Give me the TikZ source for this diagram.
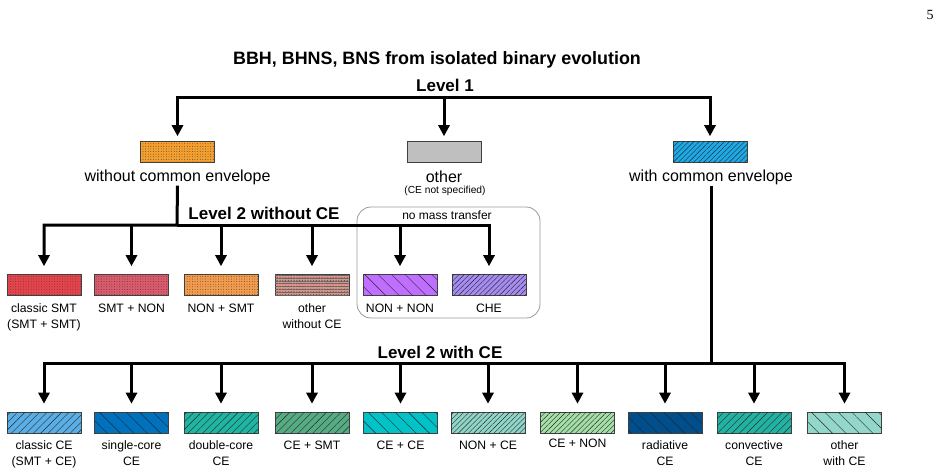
\documentclass[tikz,border=0pt]{standalone}
\usepackage{fontspec}
\setmainfont{Liberation Sans}
\newfontfamily\pagenumfont{Liberation Serif}
\usetikzlibrary{arrows.meta,patterns.meta}

\definecolor{cOrange}{HTML}{F5A02E}
\definecolor{cGrey}{HTML}{BFBFBF}
\definecolor{cBlue}{HTML}{1CA9E6}
\definecolor{cSMT}{HTML}{E8434B}
\definecolor{cSMTNON}{HTML}{DC5A6C}
\definecolor{cNONSMT}{HTML}{F59B4C}
\definecolor{cOthWo}{HTML}{D9958A}
\definecolor{cNONNON}{HTML}{C06EFF}
\definecolor{cCHE}{HTML}{A68BF2}
\definecolor{cClassCE}{HTML}{5AAEE6}
\definecolor{cSingle}{HTML}{0072BD}
\definecolor{cDouble}{HTML}{1FB5A3}
\definecolor{cCESMT}{HTML}{55AC82}
\definecolor{cCECE}{HTML}{00C2C7}
\definecolor{cNONCE}{HTML}{8FD6C9}
\definecolor{cCENON}{HTML}{A3DFA7}
\definecolor{cRad}{HTML}{004E8C}
\definecolor{cConv}{HTML}{22B2A2}
\definecolor{cOthCE}{HTML}{92D7CA}

\begin{document}
\begin{tikzpicture}[x=1pt,y=-1pt,
  box/.style={draw=black!75,line width=0.6pt,minimum width=74pt,minimum height=21pt,inner sep=0pt},
  dots/.style={postaction={pattern={Dots[radius=0.45pt,distance=2.6pt]},pattern color=black!75}},
  bricks/.style={postaction={pattern={Dots[radius=0.55pt,distance=2.8pt]},pattern color=black!85},
                 postaction={pattern={Lines[angle=0,distance=2.8pt,line width=0.3pt]},pattern color=black!60}},
  nefine/.style={postaction={pattern={Lines[angle=45,distance=3.6pt,line width=0.4pt]},pattern color=black!85}},
  nemed/.style={postaction={pattern={Lines[angle=45,distance=5.2pt,line width=0.4pt]},pattern color=black!85}},
  nwwide/.style={postaction={pattern={Lines[angle=-45,distance=9.5pt,line width=0.4pt]},pattern color=black!85}},
  lbl/.style={font=\fontsize{12.2}{16}\selectfont,align=center,anchor=north,inner sep=0pt},
  big/.style={font=\fontsize{16}{19}\selectfont,inner sep=1pt},
  small/.style={font=\fontsize{10.2}{12}\selectfont,inner sep=0pt},
  hdr/.style={font=\bfseries\fontsize{17}{20}\selectfont,inner sep=0pt},
  conn/.style={line width=3pt,line join=miter},
  arr/.style={conn,-{Triangle[width=11pt,length=11pt]},shorten >=8pt},
  arrtop/.style={conn,-{Triangle[width=11pt,length=11pt]},shorten >=5pt}
]
\useasboundingbox (0,0) rectangle (944,474);

% page number
\node[font=\pagenumfont\fontsize{14}{16}\selectfont] (pnum) at (930,15) {5};

% title and level 1
\node[hdr,font=\bfseries\fontsize{17.9}{21}\selectfont] (title) at (437,60) {BBH, BHNS, BNS from isolated binary evolution};
\node[hdr] (lev1) at (445,85) {Level 1};

% level 1 boxes
\node[box,fill=cOrange,dots] (wo) at (177.5,152) {};
\node[box,fill=cGrey] (oth) at (444,152) {};
\node[box,fill=cBlue,nefine] (ce) at (710,152) {};

\node[big] (wotxt) at (177.5,177) {without common envelope};
\node[big] (othtxt) at (444,177) {other};
\node[small] (othsub) at (445,191) {(CE not specified)};
\node[big] (cetxt) at (711,177) {with common envelope};

\coordinate (bus1) at (445,97);
\draw[arrtop] (bus1) -| (wo.north);
\draw[arrtop] (bus1) -| (ce.north);
\draw[arrtop] (oth.north |- bus1) -- (oth.north);

% level 2 without CE
\node[draw=black!40,line width=0.8pt,rounded corners=14pt,minimum width=183pt,minimum height=111pt] (nomt) at (448.5,262.5) {};
\node[font=\fontsize{12}{14}\selectfont,inner sep=0pt] (nomttxt) at (447,215) {no mass transfer};
\node[hdr] (lev2a) at (264,213) {Level 2 without CE};

\node[box,fill=cSMT,dots] (smt) at (44,285) {};
\node[box,fill=cSMTNON,dots] (smtnon) at (131.5,285) {};
\node[box,fill=cNONSMT,dots] (nonsmt) at (221,285) {};
\node[box,fill=cOthWo,bricks] (othwo) at (312,285) {};
\node[box,fill=cNONNON,nwwide] (nonnon) at (400,285) {};
\node[box,fill=cCHE,nefine] (che) at (489,285) {};

\node[lbl] (smtL) at ([yshift=-8pt]smt.south) {classic SMT\\(SMT + SMT)};
\node[lbl] (smtnonL) at ([yshift=-8pt]smtnon.south) {SMT + NON};
\node[lbl] (nonsmtL) at ([yshift=-8pt]nonsmt.south) {NON + SMT};
\node[lbl] (othwoL) at ([yshift=-8pt]othwo.south) {other\\without CE};
\node[lbl] (nonnonL) at ([yshift=-8pt]nonnon.south) {NON + NON};
\node[lbl] (cheL) at ([yshift=-8pt]che.south) {CHE};

\coordinate (bus2) at (177,225);
\draw[arr] (wotxt.south) -- (bus2) -| (smt.north);
\draw[arr] (bus2) -| (che.north);
\foreach \n in {smtnon,nonsmt,othwo,nonnon}{
  \draw[arr] (\n.north |- bus2) -- (\n.north);
}

% level 2 with CE
\node[hdr] (lev2b) at (440,352) {Level 2 with CE};

\node[box,fill=cClassCE,nemed] (cce) at (44,422.5) {};
\node[box,fill=cSingle,nwwide] (single) at (131.5,422.5) {};
\node[box,fill=cDouble,nemed] (double) at (221,422.5) {};
\node[box,fill=cCESMT,nemed] (cesmt) at (312,422.5) {};
\node[box,fill=cCECE,nwwide] (cece) at (400.5,422.5) {};
\node[box,fill=cNONCE,nefine] (nonce) at (488,422.5) {};
\node[box,fill=cCENON,nefine] (cenon) at (577.5,422.5) {};
\node[box,fill=cRad,nwwide] (rad) at (665,422.5) {};
\node[box,fill=cConv,nemed] (conv) at (754,422.5) {};
\node[box,fill=cOthCE,nwwide] (othce) at (844.5,422.5) {};

\node[lbl] (cceL) at ([yshift=-7pt]cce.south) {classic CE\\(SMT + CE)};
\node[lbl] (singleL) at ([yshift=-7pt]single.south) {single-core\\CE};
\node[lbl] (doubleL) at ([yshift=-7pt]double.south) {double-core\\CE};
\node[lbl] (cesmtL) at ([yshift=-7pt]cesmt.south) {CE + SMT};
\node[lbl] (ceceL) at ([yshift=-7pt]cece.south) {CE + CE};
\node[lbl] (nonceL) at ([yshift=-7pt]nonce.south) {NON + CE};
\node[lbl] (cenonL) at ([yshift=-5pt]cenon.south) {CE + NON};
\node[lbl] (radL) at ([yshift=-7pt]rad.south) {radiative\\CE};
\node[lbl] (convL) at ([yshift=-7pt]conv.south) {convective\\CE};
\node[lbl] (othceL) at ([yshift=-7pt]othce.south) {other\\with CE};

\coordinate (bus3) at (711,363);
\draw[arr] (cetxt.south) -- (bus3) -| (cce.north);
\draw[arr] (bus3) -| (othce.north);
\foreach \n in {single,double,cesmt,cece,nonce,cenon,rad,conv}{
  \draw[arr] (\n.north |- bus3) -- (\n.north);
}
\end{tikzpicture}
\end{document}
